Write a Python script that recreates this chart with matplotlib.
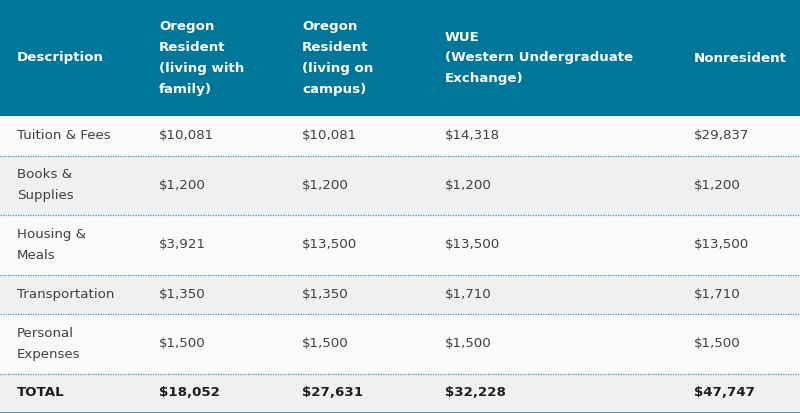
import matplotlib
matplotlib.use("Agg")
import matplotlib.pyplot as plt
from matplotlib.patches import Rectangle

# ---- data ----
headers = ["Description",
           "Oregon\nResident\n(living with\nfamily)",
           "Oregon\nResident\n(living on\ncampus)",
           "WUE\n(Western Undergraduate\nExchange)",
           "Nonresident"]
descriptions = ["Tuition & Fees", "Books &\nSupplies", "Housing &\nMeals",
                "Transportation", "Personal\nExpenses"]
resident_family = ["$10,081", "$1,200", "$3,921", "$1,350", "$1,500"]
resident_campus = ["$10,081", "$1,200", "$13,500", "$1,350", "$1,500"]
wue = ["$14,318", "$1,200", "$13,500", "$1,710", "$1,500"]
nonresident = ["$29,837", "$1,200", "$13,500", "$1,710", "$1,500"]
total_label = "TOTAL"
totals = ["$18,052", "$27,631", "$32,228", "$47,747"]

# ---- layout ----
W, H = 800, 413
fig = plt.figure(figsize=(W / 100, H / 100), dpi=100)
ax = fig.add_axes([0, 0, 1, 1])
ax.set_xlim(0, W)
ax.set_ylim(H, 0)
ax.axis("off")

FONT = "DejaVu Sans"
FS = 9.6
header_bg = "#00769a"
teal_line = "#3e9ab5"
text_col = "#404040"
col_x = [17, 159, 302, 445, 694]
header_h = 116
single_h = 39.5
double_h = 59.5
total_h = 38
LS = 1.78

# header
ax.add_patch(Rectangle((0, 0), W, header_h, color=header_bg, lw=0))
for x, h in zip(col_x, headers):
    ax.text(x, header_h / 2, h, color="white", fontsize=FS, fontweight="bold",
            family=FONT, va="center", ha="left", linespacing=LS)

columns = [descriptions, resident_family, resident_campus, wue, nonresident]
y = header_h
for i in range(len(descriptions)):
    nlines = max(str(c[i]).count("\n") + 1 for c in columns)
    rh = single_h if nlines == 1 else double_h
    bg = "#fafafa" if i % 2 == 0 else "#eff0f0"
    ax.add_patch(Rectangle((0, y), W, rh, color=bg, lw=0))
    for x, col in zip(col_x, columns):
        ax.text(x, y + rh / 2, col[i], color=text_col, fontsize=FS,
                family=FONT, va="center", ha="left", linespacing=LS)
    y += rh
    ax.plot([0, W], [y, y], color=teal_line, lw=0.9, ls=(0, (1, 1)))

# total row
ax.add_patch(Rectangle((0, y), W, total_h, color="#eff0f0", lw=0))
row_vals = [total_label] + totals
for x, v in zip(col_x, row_vals):
    ax.text(x, y + total_h / 2, v, color="#1e1e1e", fontsize=FS,
            fontweight="bold", family=FONT, va="center", ha="left")
y += total_h
ax.add_patch(Rectangle((0, y), W, H - y, color=teal_line, lw=0))

fig.savefig("out.png", dpi=100)
